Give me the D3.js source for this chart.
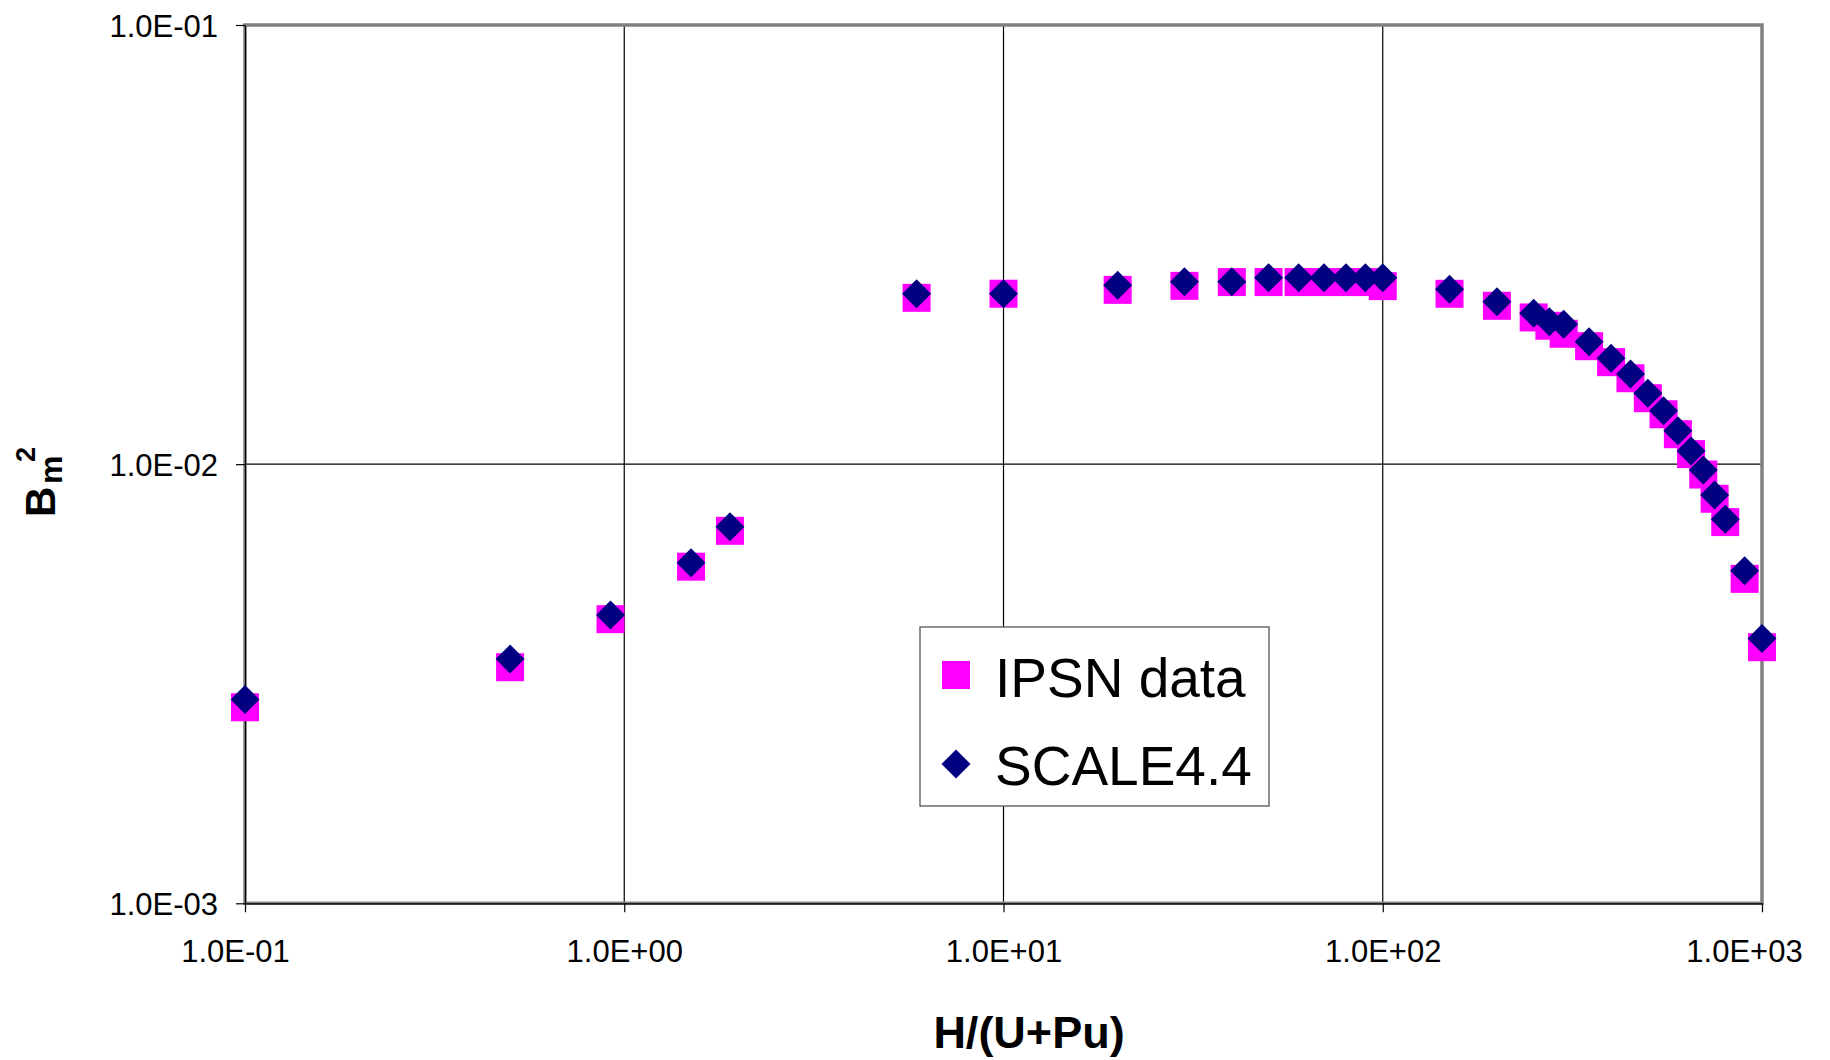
<!DOCTYPE html>
<html>
<head>
<meta charset="utf-8">
<script src="https://cdnjs.cloudflare.com/ajax/libs/d3/7.8.5/d3.min.js"></script>
<style>
  html, body { margin: 0; padding: 0; background: #fff; }
  svg { display: block; font-family: "Liberation Sans", Arial, Helvetica, sans-serif; }
</style>
</head>
<body>
<svg id="chart" width="1830" height="1060"></svg>
<script>
// ---- data ----
const hRatio = [0.1, 0.5, 0.92, 1.5, 1.9, 5.9, 10, 20, 30, 40, 50, 60, 70, 80, 90, 100,
  150, 200, 250, 275, 300, 350, 400, 450, 500, 550, 600, 650, 700, 750, 800, 900, 1000];
const ipsnData = [0.002795, 0.003448, 0.004436, 0.005841, 0.007050, 0.02392, 0.02444,
  0.02494, 0.02547, 0.02598, 0.02598, 0.02598, 0.02598, 0.02598, 0.02598, 0.02543,
  0.02443, 0.02294, 0.02158, 0.02066, 0.01981, 0.01856, 0.01707, 0.01569, 0.01413,
  0.01299, 0.01170, 0.01054, 0.00947, 0.00834, 0.00738, 0.00548, 0.00383];
const scaleData = [0.002913, 0.003599, 0.004535, 0.005965, 0.007205, 0.02444, 0.02444,
  0.02554, 0.02602, 0.02602, 0.02658, 0.02658, 0.02658, 0.02658, 0.02658, 0.02658,
  0.02501, 0.02344, 0.02206, 0.02111, 0.02083, 0.01900, 0.01742, 0.01604, 0.01450,
  0.01323, 0.01192, 0.01071, 0.00970, 0.00851, 0.00749, 0.00572, 0.00401];
const seriesNames = ["IPSN data", "SCALE4.4"];
const xTickValues = [0.1, 1, 10, 100, 1000];
const xTickLabels = ["1.0E-01", "1.0E+00", "1.0E+01", "1.0E+02", "1.0E+03"];
const yTickValues = [0.001, 0.01, 0.1];
const yTickLabels = ["1.0E-03", "1.0E-02", "1.0E-01"];
const xTitle = "H/(U+Pu)";

// ---- layout ----
const L = 245, R = 1762, T = 25, B = 903.3;
const svg = d3.select("#chart");
const x = d3.scaleLog().domain([0.1, 1000]).range([L, R]);
const y = d3.scaleLog().domain([0.001, 0.1]).range([B, T]);
const font = 31;

// gridlines
svg.append("g").selectAll("line.gx")
  .data(xTickValues.slice(1, -1)).join("line")
  .attr("x1", d => x(d)).attr("x2", d => x(d)).attr("y1", T).attr("y2", B)
  .attr("stroke", "#000").attr("stroke-width", 1.2);
svg.append("g").selectAll("line.gy")
  .data(yTickValues.slice(1, -1)).join("line")
  .attr("x1", L).attr("x2", R).attr("y1", d => y(d)).attr("y2", d => y(d))
  .attr("stroke", "#000").attr("stroke-width", 1.2);

// plot frame
svg.append("rect").attr("x", L).attr("y", T).attr("width", R - L).attr("height", B - T)
  .attr("fill", "none").attr("stroke", "#808080").attr("stroke-width", 3.5);

// axes
const xNudge = {0: -10, 4: -18};
const gx = svg.append("g").attr("transform", `translate(0,${B})`)
  .call(d3.axisBottom(x).tickValues(xTickValues).tickFormat((d, i) => xTickLabels[i])
    .tickSize(9).tickSizeOuter(0));
gx.select(".domain").attr("stroke", "#000").attr("stroke-width", 1.2);
gx.selectAll(".tick line").attr("stroke", "#000").attr("stroke-width", 1.2);
gx.selectAll(".tick text").attr("y", 58.7).attr("dy", 0)
  .attr("dx", (d, i) => xNudge[i] || 0)
  .attr("fill", "#000").style("font-size", font + "px")
  .style("font-family", '"Liberation Sans", Arial, sans-serif');

const gy = svg.append("g").attr("transform", `translate(${L},0)`)
  .call(d3.axisLeft(y).tickValues(yTickValues).tickFormat((d, i) => yTickLabels[i])
    .tickSize(9).tickPadding(18).tickSizeOuter(0));
gy.select(".domain").attr("stroke", "#000").attr("stroke-width", 1.2);
gy.selectAll(".tick line").attr("stroke", "#000").attr("stroke-width", 1.2);
gy.selectAll(".tick text").attr("dy", "0.36em")
  .attr("fill", "#000").style("font-size", font + "px")
  .style("font-family", '"Liberation Sans", Arial, sans-serif');

// data points
const pts = hRatio.map((h, i) => ({h, a: ipsnData[i], b: scaleData[i]}));
const sq = 28, dia = 14.5;
svg.append("g").selectAll("rect").data(pts).join("rect")
  .attr("x", d => x(d.h) - sq / 2).attr("y", d => y(d.a) - sq / 2)
  .attr("width", sq).attr("height", sq).attr("fill", "#FF00FF");
const diamond = (cx, cy) => `M${cx},${cy - dia}L${cx + dia},${cy}L${cx},${cy + dia}L${cx - dia},${cy}Z`;
svg.append("g").selectAll("path").data(pts).join("path")
  .attr("d", d => diamond(x(d.h), y(d.b))).attr("fill", "#000080");

// axis titles
svg.append("text").attr("x", 1029).attr("y", 1048).attr("text-anchor", "middle")
  .style("font-size", "45px").style("font-weight", "bold").text(xTitle);

const yt = svg.append("g").attr("transform", "translate(55,517) rotate(-90)")
  .style("font-weight", "bold");
yt.append("text").attr("x", 0).attr("y", 0).style("font-size", "42px").text("B");
yt.append("text").attr("x", 33).attr("y", 7).style("font-size", "32px").text("m");
yt.append("text").attr("x", 55).attr("y", -20).style("font-size", "27px").text("2");

// legend
const lg = svg.append("g");
lg.append("rect").attr("x", 920).attr("y", 627).attr("width", 349).attr("height", 179)
  .attr("fill", "#fff").attr("stroke", "#555").attr("stroke-width", 1.3);
lg.append("rect").attr("x", 956 - sq / 2).attr("y", 675 - sq / 2)
  .attr("width", sq).attr("height", sq).attr("fill", "#FF00FF");
lg.append("path").attr("d", diamond(956, 764)).attr("fill", "#000080");
lg.selectAll("text.lt").data(seriesNames).join("text")
  .attr("x", 995).attr("y", (d, i) => [697, 785][i])
  .style("font-size", "55px").text(d => d);
</script>
</body>
</html>
